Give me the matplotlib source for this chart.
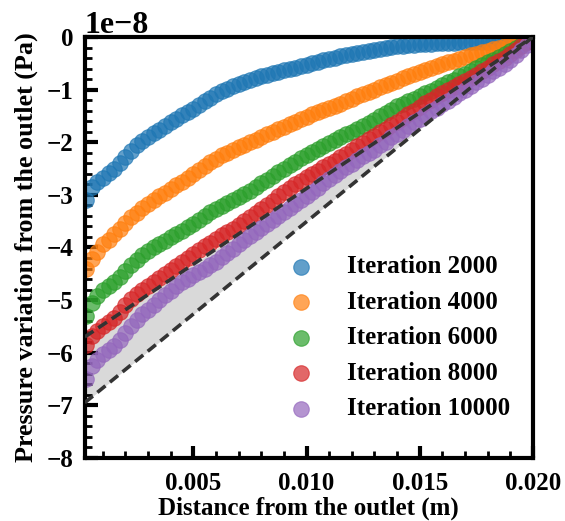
import matplotlib
matplotlib.use("Agg")
import matplotlib.pyplot as plt
import numpy as np
from matplotlib.ticker import MultipleLocator

plt.rcParams['font.family'] = ['Liberation Serif', 'DejaVu Serif']
plt.rcParams['font.weight'] = 'bold'
plt.rcParams['axes.labelweight'] = 'bold'

x = [0.00025, 0.0005, 0.00075, 0.0010, 0.00125, 0.0015, 0.00175, 0.0020, 0.00225, 0.0025,
     0.00275, 0.0030, 0.00325, 0.0035, 0.00375, 0.0040, 0.00425, 0.0045, 0.00475, 0.0050,
     0.00525, 0.0055, 0.00575, 0.0060, 0.00625, 0.0065, 0.00675, 0.0070, 0.00725, 0.0075,
     0.00775, 0.0080, 0.00825, 0.0085, 0.00875, 0.0090, 0.00925, 0.0095, 0.00975, 0.0100,
     0.01025, 0.0105, 0.01075, 0.0110, 0.01125, 0.0115, 0.01175, 0.0120, 0.01225, 0.0125,
     0.01275, 0.0130, 0.01325, 0.0135, 0.01375, 0.0140, 0.01425, 0.0145, 0.01475, 0.0150,
     0.01525, 0.0155, 0.01575, 0.0160, 0.01625, 0.0165, 0.01675, 0.0170, 0.01725, 0.0175,
     0.01775, 0.0180, 0.01825, 0.0185, 0.01875, 0.0190, 0.01925, 0.0195, 0.01975, 0.0200]

# pressure variation, in units of 1e-8 Pa
iter_2000 = [-3.10, -2.85, -2.76, -2.68, -2.59, -2.50, -2.40, -2.28, -2.16, -2.05,
             -1.97, -1.90, -1.83, -1.76, -1.69, -1.62, -1.55, -1.49, -1.42, -1.36,
             -1.29, -1.22, -1.15, -1.08, -1.03, -0.99, -0.94, -0.90, -0.86, -0.82,
             -0.78, -0.75, -0.72, -0.69, -0.66, -0.63, -0.60, -0.58, -0.55, -0.53,
             -0.50, -0.47, -0.44, -0.41, -0.39, -0.37, -0.34, -0.32, -0.30, -0.28,
             -0.26, -0.24, -0.22, -0.21, -0.19, -0.18, -0.17, -0.16, -0.15, -0.14,
             -0.13, -0.13, -0.12, -0.12, -0.11, -0.11, -0.10, -0.10, -0.10, -0.10,
             -0.09, -0.09, -0.08, -0.08, -0.07, -0.07, -0.06, -0.05, -0.03, -0.02]
iter_4000 = [-4.40, -4.22, -4.08, -3.94, -3.85, -3.75, -3.64, -3.53, -3.43, -3.34,
             -3.25, -3.17, -3.10, -3.03, -2.96, -2.89, -2.82, -2.76, -2.68, -2.61,
             -2.53, -2.46, -2.38, -2.31, -2.25, -2.20, -2.15, -2.10, -2.05, -2.00,
             -1.95, -1.90, -1.85, -1.80, -1.75, -1.71, -1.66, -1.61, -1.56, -1.52,
             -1.47, -1.43, -1.39, -1.35, -1.31, -1.27, -1.22, -1.18, -1.13, -1.09,
             -1.04, -1.00, -0.95, -0.91, -0.87, -0.83, -0.78, -0.74, -0.70, -0.66,
             -0.62, -0.59, -0.55, -0.52, -0.48, -0.45, -0.41, -0.38, -0.35, -0.32,
             -0.29, -0.26, -0.23, -0.20, -0.17, -0.14, -0.11, -0.08, -0.05, -0.02]
iter_6000 = [-5.30, -5.05, -4.92, -4.80, -4.73, -4.66, -4.56, -4.45, -4.34, -4.24,
             -4.15, -4.06, -4.00, -3.93, -3.87, -3.80, -3.74, -3.68, -3.61, -3.55,
             -3.47, -3.40, -3.33, -3.27, -3.21, -3.16, -3.10, -3.04, -2.98, -2.92,
             -2.85, -2.78, -2.71, -2.64, -2.57, -2.50, -2.43, -2.37, -2.30, -2.24,
             -2.18, -2.13, -2.07, -2.01, -1.95, -1.90, -1.85, -1.80, -1.75, -1.70,
             -1.64, -1.58, -1.51, -1.45, -1.38, -1.32, -1.27, -1.22, -1.17, -1.12,
             -1.07, -1.02, -0.97, -0.92, -0.86, -0.81, -0.75, -0.70, -0.64, -0.59,
             -0.53, -0.48, -0.43, -0.38, -0.32, -0.27, -0.21, -0.15, -0.09, -0.03]
iter_8000 = [-5.85, -5.68, -5.59, -5.50, -5.42, -5.34, -5.22, -5.10, -4.98, -4.88,
             -4.80, -4.73, -4.65, -4.58, -4.50, -4.43, -4.35, -4.28, -4.20, -4.13,
             -4.05, -3.98, -3.91, -3.84, -3.77, -3.71, -3.64, -3.57, -3.50, -3.43,
             -3.35, -3.27, -3.19, -3.11, -3.03, -2.95, -2.87, -2.80, -2.73, -2.66,
             -2.60, -2.54, -2.47, -2.41, -2.35, -2.29, -2.22, -2.15, -2.08, -2.01,
             -1.94, -1.88, -1.81, -1.74, -1.67, -1.61, -1.54, -1.47, -1.40, -1.33,
             -1.26, -1.19, -1.12, -1.06, -1.00, -0.95, -0.89, -0.84, -0.78, -0.72,
             -0.65, -0.59, -0.52, -0.46, -0.39, -0.32, -0.25, -0.17, -0.10, -0.03]
iter_10000 = [-6.50, -6.25, -6.14, -6.03, -5.95, -5.87, -5.75, -5.62, -5.49, -5.37,
              -5.27, -5.18, -5.09, -5.00, -4.91, -4.83, -4.74, -4.66, -4.59, -4.52,
              -4.46, -4.40, -4.33, -4.27, -4.18, -4.10, -4.02, -3.94, -3.86, -3.78,
              -3.70, -3.63, -3.55, -3.48, -3.40, -3.33, -3.25, -3.18, -3.10, -3.03,
              -2.95, -2.87, -2.78, -2.70, -2.62, -2.55, -2.48, -2.41, -2.34, -2.27,
              -2.20, -2.14, -2.06, -1.99, -1.91, -1.84, -1.76, -1.69, -1.62, -1.55,
              -1.48, -1.41, -1.34, -1.28, -1.21, -1.14, -1.07, -1.00, -0.93, -0.86,
              -0.79, -0.72, -0.65, -0.58, -0.51, -0.44, -0.35, -0.25, -0.15, -0.05]

labels = ["Iteration 2000", "Iteration 4000", "Iteration 6000", "Iteration 8000", "Iteration 10000"]
colors = ["#1f77b4", "#ff7f0e", "#2ca02c", "#d62728", "#9467bd"]
series = [iter_2000, iter_4000, iter_6000, iter_8000, iter_10000]

# bounding lines (x, y in units of 1e-8 Pa)
bound_x = [0.0002, 0.0200]
upper_y = [-5.70, 0.0]
lower_y = [-6.95, 0.0]
scale = 1e-8

fig = plt.figure(figsize=(5.65, 5.21), dpi=100)
ax = fig.add_axes([0.150, 0.121, 0.793, 0.808])

ax.fill_between(bound_x, np.array(lower_y) * scale, np.array(upper_y) * scale,
                color="#d9d9d9", zorder=1, linewidth=0)
for ys, c, lab in zip(series, colors, labels):
    ax.scatter(x, np.array(ys) * scale, s=125, color=c, alpha=0.7, label=lab,
               zorder=2, linewidths=0.8)
ax.plot(bound_x, np.array(upper_y) * scale, ls=(0, (2.9, 1.6)), color="#333333", lw=2.6, zorder=3)
ax.plot(bound_x, np.array(lower_y) * scale, ls=(0, (2.9, 1.6)), color="#333333", lw=2.6, zorder=3)

ax.set_xlim(0.0002, 0.020)
ax.set_ylim(-8e-8, 0)
ax.xaxis.set_major_locator(MultipleLocator(0.005))
ax.xaxis.set_minor_locator(MultipleLocator(0.001))
ax.yaxis.set_major_locator(MultipleLocator(1e-8))
ax.yaxis.set_minor_locator(MultipleLocator(0.2e-8))
ax.tick_params(which='major', direction='in', length=9, width=3, labelsize=18)
ax.tick_params(axis='x', which='major', pad=10)
ax.tick_params(axis='y', which='major', pad=8)
ax.tick_params(which='minor', direction='in', length=5, width=2)
ax.tick_params(top=False, right=False, which='both')
for sp in ax.spines.values():
    sp.set_linewidth(3)
ax.yaxis.get_offset_text().set_fontsize(23)
ax.yaxis.get_offset_text().set_fontweight('bold')

ax.set_xlabel("Distance from the outlet (m)", fontsize=18, fontweight='bold', labelpad=1.5)
ax.set_ylabel("Pressure variation from the outlet (Pa)", fontsize=18.8, fontweight='bold', labelpad=6)

ax.legend(loc='lower right', bbox_to_anchor=(1.0, 0.036), frameon=False,
          prop={'size': 18, 'weight': 'bold'},
          handletextpad=0.85, labelspacing=0.5, markerscale=1.0, borderaxespad=0.5)

fig.savefig("out.png", dpi=100)
